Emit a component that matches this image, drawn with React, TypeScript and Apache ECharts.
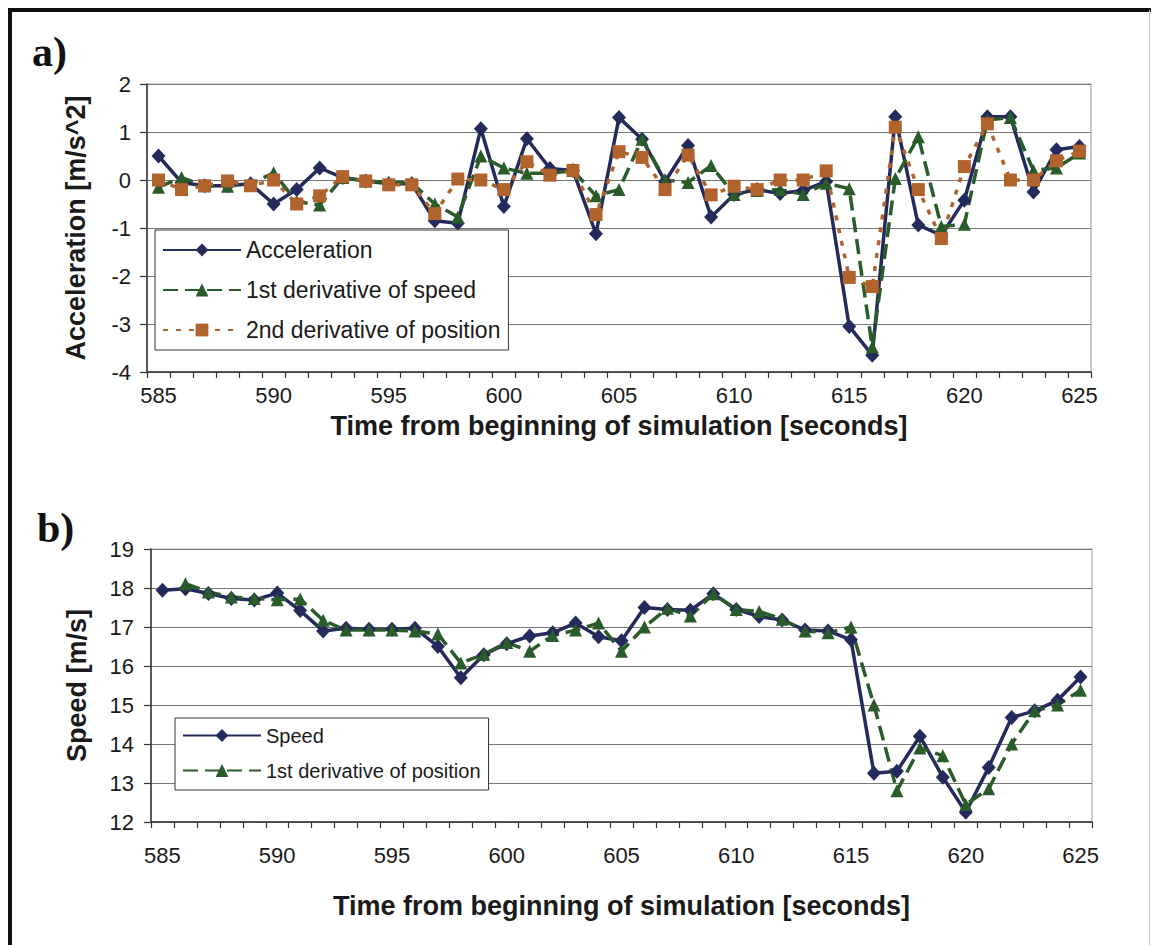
import React, { useEffect, useRef } from "react";
import * as echarts from "echarts";

const categories = [
  "585", "586", "587", "588", "589", "590", "591", "592", "593", "594",
  "595", "596", "597", "598", "599", "600", "601", "602", "603", "604",
  "605", "606", "607", "608", "609", "610", "611", "612", "613", "614",
  "615", "616", "617", "618", "619", "620", "621", "622", "623", "624",
  "625",
];

// Chart a) – accelerations [m/s^2]
const acceleration = [
  0.5, -0.05, -0.12, -0.12, -0.08, -0.5, -0.2, 0.25, 0.05, -0.02,
  -0.08, -0.08, -0.85, -0.9, 1.07, -0.55, 0.86, 0.24, 0.2, -1.12,
  1.3, 0.85, -0.03, 0.72, -0.77, -0.3, -0.2, -0.28, -0.22, -0.03,
  -3.05, -3.65, 1.32, -0.94, -1.15, -0.42, 1.32, 1.32, -0.25, 0.63,
  0.7,
];
const speedDerivative = [
  -0.15, 0.05, -0.12, -0.13, -0.08, 0.15, -0.45, -0.52, 0.05, -0.02,
  -0.05, -0.06, -0.5, -0.77, 0.5, 0.25, 0.14, 0.14, 0.2, -0.33,
  -0.2, 0.85, 0.0, -0.05, 0.3, -0.3, -0.22, -0.2, -0.3, -0.07,
  -0.18, -3.48, 0.03, 0.9, -0.97, -0.92, 1.25, 1.3, 0.2, 0.25,
  0.56,
];
const positionSecondDerivative = [
  0.0, -0.2, -0.12, -0.02, -0.12, 0.0, -0.5, -0.33, 0.07, -0.02,
  -0.1, -0.1, -0.7, 0.02, 0.0, -0.2, 0.38, 0.1, 0.2, -0.72,
  0.59, 0.47, -0.2, 0.52, -0.31, -0.13, -0.2, 0.0, 0.0, 0.19,
  -2.03, -2.22, 1.1, -0.2, -1.22, 0.28, 1.17, 0.0, 0.0, 0.4,
  0.6,
];

// Chart b) – speeds [m/s]
const speed = [
  17.94, 17.98, 17.86, 17.73, 17.69, 17.87, 17.42, 16.9, 16.97, 16.94,
  16.94, 16.97, 16.5, 15.7, 16.29, 16.57, 16.77, 16.85, 17.1, 16.75,
  16.65, 17.5, 17.45, 17.43, 17.85, 17.45, 17.27, 17.18, 16.92, 16.9,
  16.67, 13.25, 13.3, 14.2, 13.15, 12.25, 13.4, 14.68, 14.85, 15.12,
  15.72,
];
const positionDerivative = [
  null, 18.11, 17.9, 17.77, 17.73, 17.7, 17.72, 17.17, 16.92, 16.92,
  16.92, 16.9, 16.82, 16.08, 16.3, 16.6, 16.38, 16.78, 16.92, 17.1,
  16.38, 17.0, 17.48, 17.28, 17.85, 17.45, 17.4, 17.2, 16.9, 16.85,
  17.0, 15.0, 12.8, 13.9, 13.7, 12.45, 12.85, 14.0, 14.85, 15.0,
  15.38,
];

const accelAxis = { min: -4, max: 2, interval: 1 };
const speedAxis = { min: 12, max: 19, interval: 1 };

const NAVY = "#252a5c";
const GREEN = "#2a5b2a";
const BROWN = "#b0632d";
const FONT = "'Liberation Sans', Arial, Helvetica, sans-serif";
const TXT = "#1a1a1a";

function xAxisFor(gridIndex: number, labelMargin: number, nameGap: number) {
  return {
    type: "category",
    gridIndex,
    data: categories,
    boundaryGap: true,
    axisLine: { show: true, onZero: false, lineStyle: { color: "#333", width: 1.5 } },
    axisTick: {
      show: true,
      interval: 0,
      alignWithLabel: false,
      inside: false,
      length: 6,
      lineStyle: { color: "#333", width: 1.2 },
    },
    axisLabel: { interval: 4, margin: labelMargin, color: TXT, fontSize: 22, fontFamily: FONT },
    splitLine: { show: false },
    name: "Time from beginning of simulation [seconds]",
    nameLocation: "middle",
    nameGap,
    nameTextStyle: { fontSize: 27, fontWeight: "bold", fontFamily: FONT, color: TXT },
  };
}

function yAxisFor(
  gridIndex: number,
  range: { min: number; max: number; interval: number },
  name: string,
  labelMargin: number,
  nameGap: number
) {
  return {
    type: "value",
    gridIndex,
    min: range.min,
    max: range.max,
    interval: range.interval,
    axisLine: { show: true, lineStyle: { color: "#333", width: 1.5 } },
    axisTick: { show: true, inside: false, length: 7, lineStyle: { color: "#333", width: 1.2 } },
    axisLabel: { margin: labelMargin, color: TXT, fontSize: 22, fontFamily: FONT },
    splitLine: { show: true, lineStyle: { color: "#767676", width: 1 } },
    name,
    nameLocation: "middle",
    nameRotate: 90,
    nameGap,
    nameTextStyle: { fontSize: 27, fontWeight: "bold", fontFamily: FONT, color: TXT },
  };
}

function lineSeries(
  name: string,
  data: (number | null)[],
  axisIndex: number,
  color: string,
  symbol: string,
  symbolSize: number | number[],
  dash: string | number[]
) {
  return {
    name,
    type: "line",
    xAxisIndex: axisIndex,
    yAxisIndex: axisIndex,
    data,
    symbol,
    symbolSize,
    showAllSymbol: true,
    lineStyle: { color, width: 3.5, type: dash },
    itemStyle: { color, borderWidth: 0 },
    emphasis: { disabled: true },
  };
}

export default function App() {
  const ref = useRef<HTMLDivElement>(null);

  useEffect(() => {
    document.body.style.margin = "0";
    if (!ref.current) return;
    const chart = echarts.init(ref.current, null, { renderer: "svg" });
    const option = {
      animation: false,
      backgroundColor: "#ffffff",
      grid: [
        { left: 147, right: 61, top: 84, height: 288, show: true, borderColor: "#9a9a9a", borderWidth: 1, backgroundColor: "#fff" },
        { left: 151, right: 60, top: 549, height: 273, show: true, borderColor: "#9a9a9a", borderWidth: 1, backgroundColor: "#fff" },
      ],
      xAxis: [xAxisFor(0, 12, 40), xAxisFor(1, 22, 70)],
      yAxis: [
        yAxisFor(0, accelAxis, "Acceleration [m/s^2]", 16, 58),
        yAxisFor(1, speedAxis, "Speed [m/s]", 17, 61),
      ],
      legend: [
        {
          data: ["Acceleration", "1st derivative of speed", "2nd derivative of position"],
          orient: "vertical",
          left: 155,
          top: 230,
          padding: [8, 8, 8, 7],
          itemGap: 16,
          itemWidth: 78,
          itemHeight: 16,
          backgroundColor: "#ffffff",
          borderColor: "#333",
          borderWidth: 1,
          borderRadius: 0,
          selectedMode: false,
          textStyle: { fontSize: 23, lineHeight: 24, fontFamily: FONT, color: TXT },
        },
        {
          data: ["Speed", "1st derivative of position"],
          orient: "vertical",
          left: 175,
          top: 718,
          padding: [7, 8, 9, 7],
          itemGap: 14,
          itemWidth: 78,
          itemHeight: 16,
          backgroundColor: "#ffffff",
          borderColor: "#333",
          borderWidth: 1,
          borderRadius: 0,
          selectedMode: false,
          textStyle: { fontSize: 20, lineHeight: 21, fontFamily: FONT, color: TXT },
        },
      ],
      series: [
        lineSeries("Acceleration", acceleration, 0, NAVY, "diamond", [14, 15], "solid"),
        lineSeries("1st derivative of speed", speedDerivative, 0, GREEN, "triangle", 13, [15, 7]),
        lineSeries("2nd derivative of position", positionSecondDerivative, 0, BROWN, "rect", 13, [5, 8]),
        lineSeries("Speed", speed, 1, NAVY, "diamond", [14, 15], "solid"),
        lineSeries("1st derivative of position", positionDerivative, 1, GREEN, "triangle", 13, [15, 7]),
      ],
      graphic: [
        {
          type: "text",
          x: 32,
          y: 52,
          style: {
            text: "a)",
            fontSize: 42,
            fontWeight: "bold",
            fontFamily: "'Liberation Serif', 'Times New Roman', serif",
            fill: "#111",
            align: "left",
            verticalAlign: "middle",
            textAlign: "left",
            textVerticalAlign: "middle",
          },
        },
        {
          type: "text",
          x: 37,
          y: 528,
          style: {
            text: "b)",
            fontSize: 42,
            fontWeight: "bold",
            fontFamily: "'Liberation Serif', 'Times New Roman', serif",
            fill: "#111",
            align: "left",
            verticalAlign: "middle",
            textAlign: "left",
            textVerticalAlign: "middle",
          },
        },
        { type: "line", shape: { x1: 8, y1: 10, x2: 1151, y2: 10 }, style: { stroke: "#111", lineWidth: 4 } },
        { type: "line", shape: { x1: 10, y1: 8, x2: 10, y2: 945 }, style: { stroke: "#111", lineWidth: 4 } },
        { type: "line", shape: { x1: 1149.5, y1: 10, x2: 1149.5, y2: 945 }, style: { stroke: "#c4c4c4", lineWidth: 1 } },
      ],
    };
    chart.setOption(option as any);
    return () => {
      chart.dispose();
    };
  }, []);

  return <div ref={ref} style={{ width: 1152, height: 945 }} />;
}
